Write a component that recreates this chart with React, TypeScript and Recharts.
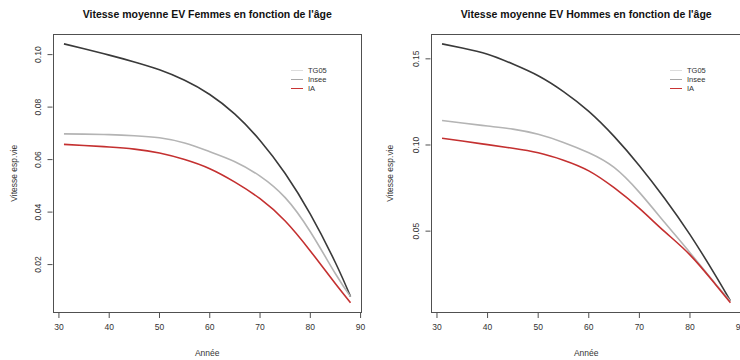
import { LineChart, Line, XAxis, YAxis } from "recharts";

// ages (x) and series
const ages = [31, 35, 40, 45, 50, 55, 60, 65, 70, 75, 80, 85, 88];

const femTG05 = [0.0698, 0.0697, 0.0695, 0.0691, 0.0683, 0.0663, 0.063, 0.0592, 0.0537, 0.0455, 0.0325, 0.0165, 0.0078];
const femInsee = [0.1041, 0.1022, 0.0998, 0.0972, 0.0942, 0.0902, 0.0848, 0.0773, 0.0673, 0.0547, 0.0392, 0.0207, 0.0078];
const femIA = [0.0658, 0.0654, 0.0648, 0.064, 0.0625, 0.06, 0.0565, 0.0514, 0.0451, 0.0366, 0.0252, 0.0127, 0.0055];

const homTG05 = [0.1142, 0.1128, 0.111, 0.1092, 0.1062, 0.1015, 0.0955, 0.087, 0.0725, 0.055, 0.0375, 0.0195, 0.0095];
const homInsee = [0.1587, 0.1563, 0.1527, 0.147, 0.1402, 0.131, 0.1195, 0.105, 0.088, 0.069, 0.048, 0.0245, 0.0095];
const homIA = [0.1039, 0.1023, 0.1002, 0.0981, 0.0955, 0.0912, 0.085, 0.0752, 0.0632, 0.0497, 0.0362, 0.0192, 0.0085];

const xTicks = [30, 40, 50, 60, 70, 80, 90];
const femYTicks = [0.02, 0.04, 0.06, 0.08, 0.1];
const homYTicks = [0.05, 0.1, 0.15];

const legendItems = [
  { name: "TG05", color: "#dcdcdc" },
  { name: "Insee", color: "#a8a8a8" },
  { name: "IA", color: "#c93434" },
];

const FONT = "'Liberation Sans', Arial, Helvetica, sans-serif";
const TEXT = "#333333";

// R-like padded domain (4% each side)
function pad(min: number, max: number): [number, number] {
  const r = max - min;
  return [min - 0.04 * r, max + 0.04 * r];
}

function buildRows(tg: number[], insee: number[], ia: number[]) {
  return ages.map((age, i) => ({ age, TG05: tg[i], Insee: insee[i], IA: ia[i] }));
}

const YTick = (props: any) => {
  const { x, y, payload } = props;
  return (
    <text
      x={x}
      y={y}
      transform={`rotate(-90, ${x}, ${y})`}
      textAnchor="middle"
      fontSize={8.5}
      fill={TEXT}
      fontFamily={FONT}
    >
      {Number(payload.value).toFixed(2)}
    </text>
  );
};

const LegendBox = ({ left }: { left: number }) => (
  <div style={{ position: "absolute", left, top: 66, fontFamily: FONT, fontSize: 7.5, lineHeight: "9px" }}>
    {legendItems.map((it) => (
      <div key={it.name} style={{ display: "flex", alignItems: "center", height: 9 }}>
        <span style={{ display: "inline-block", width: 12, height: 1.5, background: it.color, marginRight: 5 }} />
        <span style={{ color: TEXT }}>{it.name}</span>
      </div>
    ))}
  </div>
);

type PanelProps = {
  title: string;
  rows: any[];
  yTicks: number[];
  yDomain: [number, number];
  width: number;
  yAxisWidth: number;
  legendLeft: number;
  yLabelOffset: number;
};

const TOP = 33.5;
const BOTTOM_AXIS = 47;

function Panel({ title, rows, yTicks, yDomain, width, yAxisWidth, legendLeft, yLabelOffset }: PanelProps) {
  const xDomain = pad(31, 88);
  const rightMargin = 8;
  const plotW = width - yAxisWidth - rightMargin;
  const plotH = 360 - TOP - BOTTOM_AXIS;
  return (
    <div style={{ position: "relative", width, height: 360 }}>
      <div
        style={{
          position: "absolute",
          left: yAxisWidth,
          width: plotW,
          top: 8,
          textAlign: "center",
          fontFamily: FONT,
          fontWeight: "bold",
          fontSize: 10.5,
          color: "#111",
        }}
      >
        {title}
      </div>
      {/* R style frame around the plot region */}
      <div
        style={{
          position: "absolute",
          left: yAxisWidth,
          top: TOP,
          width: plotW,
          height: plotH,
          border: "1px solid #505050",
          boxSizing: "border-box",
          pointerEvents: "none",
        }}
      />
      <LineChart width={width} height={360} data={rows} margin={{ top: TOP, right: rightMargin, left: 0, bottom: 0 }}>
        <XAxis
          type="number"
          dataKey="age"
          domain={xDomain}
          ticks={xTicks}
          allowDataOverflow
          height={BOTTOM_AXIS}
          axisLine={false}
          tickSize={5}
          tickMargin={6}
          tickLine={{ stroke: "#505050" }}
          tick={{ fontSize: 8.5, fill: TEXT, fontFamily: FONT }}
          label={{
            value: "Année",
            position: "insideBottom",
            offset: 4,
            fill: TEXT,
            style: { fontSize: 8.5, fill: TEXT, fontFamily: FONT },
          }}
        />
        <YAxis
          type="number"
          domain={yDomain}
          ticks={yTicks}
          allowDataOverflow
          width={yAxisWidth}
          axisLine={false}
          tickSize={5}
          tickMargin={6.5}
          tickLine={{ stroke: "#505050" }}
          tick={<YTick />}
          label={{
            value: "Vitesse esp.vie",
            angle: -90,
            position: "insideLeft",
            offset: yLabelOffset,
            fill: TEXT,
            style: { textAnchor: "middle", fontSize: 8.5, fill: TEXT, fontFamily: FONT },
          }}
        />
        <Line type="natural" dataKey="Insee" stroke="#3a3a3a" strokeWidth={1.6} dot={false} isAnimationActive={false} />
        <Line type="natural" dataKey="TG05" stroke="#b4b4b4" strokeWidth={1.6} dot={false} isAnimationActive={false} />
        <Line type="natural" dataKey="IA" stroke="#c43030" strokeWidth={1.6} dot={false} isAnimationActive={false} />
      </LineChart>
      <LegendBox left={legendLeft} />
    </div>
  );
}

export default function App() {
  const femRows = buildRows(femTG05, femInsee, femIA);
  const homRows = buildRows(homTG05, homInsee, homIA);
  return (
    <div
      style={{
        position: "absolute",
        top: 0,
        left: 0,
        width: 740,
        height: 360,
        overflow: "hidden",
        background: "#fff",
      }}
    >
      <div style={{ position: "absolute", left: 0, top: 0 }}>
        <Panel
          title="Vitesse moyenne EV Femmes en fonction de l'âge"
          rows={femRows}
          yTicks={femYTicks}
          yDomain={pad(0.0055, 0.1041)}
          width={370}
          yAxisWidth={52.5}
          legendLeft={291}
          yLabelOffset={14}
        />
      </div>
      <div style={{ position: "absolute", left: 370, top: 0 }}>
        <Panel
          title="Vitesse moyenne EV Hommes en fonction de l'âge"
          rows={homRows}
          yTicks={homYTicks}
          yDomain={pad(0.0085, 0.1587)}
          width={380}
          yAxisWidth={60.5}
          legendLeft={300}
          yLabelOffset={20}
        />
      </div>
    </div>
  );
}
